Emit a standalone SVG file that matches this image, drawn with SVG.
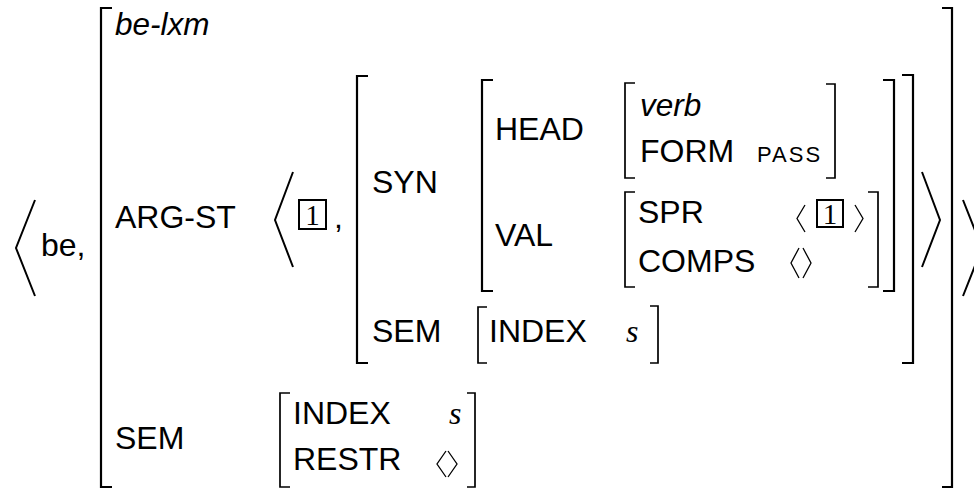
<svg xmlns="http://www.w3.org/2000/svg" width="974" height="488" viewBox="0 0 974 488">
<style>
.t{font-family:"Liberation Sans",Arial,sans-serif;font-size:32px;fill:#000}
.i{font-style:italic;font-size:31.5px}
.sc{font-size:22px;letter-spacing:2px}
.m{font-family:"Liberation Serif","Times New Roman",serif;font-style:italic;font-size:32px;fill:#000}
.n{font-family:"Liberation Serif","Times New Roman",serif;font-size:29px;fill:#000;text-anchor:middle}
.b{fill:none;stroke:#000;stroke-width:2.2;stroke-linecap:butt;stroke-linejoin:miter}
.bs{fill:none;stroke:#000;stroke-width:1.7}
.a{fill:none;stroke:#000;stroke-width:2;stroke-linejoin:miter}
.as{fill:none;stroke:#000;stroke-width:1.3}
.box{fill:none;stroke:#000;stroke-width:2}
</style>
<rect width="974" height="488" fill="#fff"/>
<g id="outer-list">
<path class="a" d="M35,200 L16,248 L35,296"/>
<text class="t" x="41" y="256">be,</text>
<path class="a" d="M963,200 L982,248 L963,296"/>
</g>
<g id="be-lxm">
<path class="b" d="M112,8 H101 V487 H112"/>
<path class="b" d="M942,8 H952 V487 H942"/>
<text class="t i" x="115" y="35">be-lxm</text>
<text class="t" x="115" y="227.5">ARG-ST</text>
<text class="t" x="115" y="449">SEM</text>
</g>
<g id="arg-st-list">
<path class="a" d="M293,172 L275,220 L293,267"/>
<rect class="box" x="299" y="200" width="27" height="29"/>
<text class="n" x="312.5" y="225">1</text>
<text class="t" x="334" y="228">,</text>
<path class="a" d="M922,172 L940,220 L922,267"/>
</g>
<g id="synsem">
<path class="b" d="M368,76 H357 V363 H368"/>
<path class="b" d="M902,75 H913 V363 H902"/>
<text class="t" x="372" y="193">SYN</text>
<text class="t" x="372" y="342">SEM</text>
</g>
<g id="syn-value">
<path class="b" d="M493,80 H482 V291 H493"/>
<path class="b" d="M883,80 H894 V291 H883"/>
<text class="t" x="495" y="140">HEAD</text>
<text class="t" x="495" y="246">VAL</text>
</g>
<g id="head-value">
<path class="bs" d="M635,83 H625 V178 H635"/>
<path class="bs" d="M826,84 H835 V178 H826"/>
<text class="t i" x="640" y="116">verb</text>
<text class="t" x="640" y="162">FORM</text>
<text class="t sc" x="757" y="162">PASS</text>
</g>
<g id="val-value">
<path class="bs" d="M635,192 H625 V287 H635"/>
<path class="bs" d="M868,192 H878 V287 H868"/>
<text class="t" x="638" y="223">SPR</text>
<text class="t" x="638" y="272">COMPS</text>
<path class="as" d="M805,205 L797,218.5 L805,232"/>
<rect class="box" x="817" y="200" width="26" height="27"/>
<text class="n" x="830" y="223.5">1</text>
<path class="as" d="M855,205 L863,218.5 L855,232"/>
<path class="as" d="M799,248 L791,263 L799,278"/>
<path class="as" d="M803,248 L811,263 L803,278"/>
</g>
<g id="inner-sem-value">
<path class="bs" d="M487,307 H478 V363 H487"/>
<path class="bs" d="M650,306 H658 V363 H650"/>
<text class="t" x="489" y="342">INDEX</text>
<text class="m" x="626" y="342">s</text>
</g>
<g id="outer-sem-value">
<path class="bs" d="M290,393 H280 V487 H290"/>
<path class="bs" d="M467,393 H475 V487 H467"/>
<text class="t" x="293" y="424">INDEX</text>
<text class="m" x="449" y="424">s</text>
<text class="t" x="293" y="470">RESTR</text>
<path class="as" d="M446,451 L437,464 L446,477"/>
<path class="as" d="M448,451 L457,464 L448,477"/>
</g>
</svg>
